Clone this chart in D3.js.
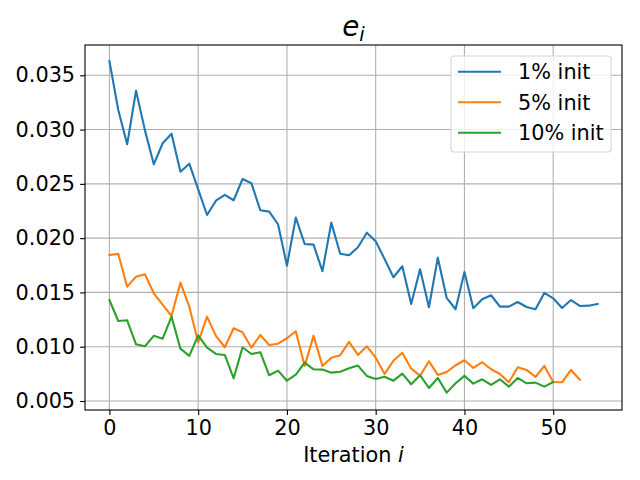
<!DOCTYPE html>
<html>
<head>
<meta charset="utf-8">
<script src="https://cdn.jsdelivr.net/npm/d3@7"></script>
<style>
  body { margin: 0; background: #fff; }
  svg { display: block; font-family: "DejaVu Sans", sans-serif; }
</style>
</head>
<body>
<svg id="chart" width="640" height="480"></svg>
<script>
const seriesNames = ['1% init', '5% init', '10% init'];
const seriesColors = ['#1f77b4', '#ff7f0e', '#2ca02c'];

const init1 = [
  0.03630, 0.03180, 0.02864, 0.03358, 0.02995, 0.02680, 0.02874, 0.02962, 0.02612, 0.02686,
  0.02450, 0.02213, 0.02345, 0.02398, 0.02349, 0.02545, 0.02505, 0.02257, 0.02244, 0.02128,
  0.01746, 0.02189, 0.01946, 0.01940, 0.01695, 0.02143, 0.01857, 0.01842, 0.01916, 0.02050,
  0.01971, 0.01808, 0.01640, 0.01741, 0.01394, 0.01713, 0.01363, 0.01820, 0.01449, 0.01345,
  0.01688, 0.01354, 0.01437, 0.01474, 0.01369, 0.01369, 0.01412, 0.01366, 0.01345, 0.01495,
  0.01446, 0.01357, 0.01430, 0.01375, 0.01378, 0.01394
];
const init5 = [
  0.01845, 0.01855, 0.01553, 0.01645, 0.01667, 0.01492, 0.01387, 0.01283, 0.01590, 0.01369,
  0.01040, 0.01277, 0.01100, 0.00995, 0.01170, 0.01133, 0.00991, 0.01108, 0.01016, 0.01028,
  0.01078, 0.01142, 0.00823, 0.01100, 0.00823, 0.00899, 0.00921, 0.01044, 0.00924, 0.01004,
  0.00899, 0.00749, 0.00871, 0.00945, 0.00798, 0.00733, 0.00866, 0.00740, 0.00767, 0.00829,
  0.00875, 0.00804, 0.00857, 0.00792, 0.00749, 0.00672, 0.00811, 0.00786, 0.00721, 0.00823,
  0.00675, 0.00672, 0.00786, 0.00696
];
const init10 = [
  0.01430, 0.01237, 0.01243, 0.01022, 0.01004, 0.01100, 0.01074, 0.01277, 0.00982, 0.00915,
  0.01105, 0.00991, 0.00933, 0.00924, 0.00709, 0.00995, 0.00933, 0.00949, 0.00737, 0.00780,
  0.00687, 0.00743, 0.00853, 0.00792, 0.00789, 0.00761, 0.00770, 0.00801, 0.00826, 0.00731,
  0.00703, 0.00724, 0.00687, 0.00752, 0.00654, 0.00737, 0.00620, 0.00712, 0.00577, 0.00663,
  0.00731, 0.00660, 0.00700, 0.00648, 0.00700, 0.00632, 0.00712, 0.00663, 0.00669, 0.00632,
  0.00675
];
const xTicks = [0, 10, 20, 30, 40, 50];
const yTicks = [0.005, 0.010, 0.015, 0.020, 0.025, 0.030, 0.035];

const allSeries = [init1, init5, init10];

const svg = d3.select('#chart');
const plotL = 85, plotR = 622, plotT = 45, plotB = 410;

const x = d3.scaleLinear().domain([-2.75, 57.75]).range([plotL, plotR]);
const y = d3.scaleLinear().domain([0.00417, 0.03779]).range([plotB, plotT]);

// grid
const grid = svg.append('g').attr('stroke', '#b0b0b0').attr('stroke-width', 1.1);
xTicks.forEach((t) => {
  grid.append('line').attr('x1', x(t)).attr('x2', x(t)).attr('y1', plotT).attr('y2', plotB);
});
yTicks.forEach((t) => {
  grid.append('line').attr('x1', plotL).attr('x2', plotR).attr('y1', y(t)).attr('y2', y(t));
});

// lines
const line = d3.line()
  .x((d, i) => x(i))
  .y((d) => y(d));

allSeries.forEach((s, k) => {
  svg.append('path')
    .datum(s)
    .attr('fill', 'none')
    .attr('stroke', seriesColors[k])
    .attr('stroke-width', 2.1)
    .attr('stroke-linejoin', 'round')
    .attr('stroke-linecap', 'square')
    .attr('d', line);
});

// axes
const xAxis = svg.append('g')
  .attr('transform', `translate(0,${plotB})`)
  .call(d3.axisBottom(x).tickValues(xTicks).tickSize(4.9).tickPadding(5).tickFormat(d3.format('d')));
const yAxis = svg.append('g')
  .attr('transform', `translate(${plotL},0)`)
  .call(d3.axisLeft(y).tickValues(yTicks).tickSize(4.9).tickPadding(5).tickFormat(d3.format('.3f')));

[xAxis, yAxis].forEach((ax) => {
  ax.select('.domain').remove();
  ax.selectAll('line').attr('stroke', '#000').attr('stroke-width', 1.1);
  ax.selectAll('text')
    .attr('fill', '#000')
    .style('font-family', '"DejaVu Sans", sans-serif')
    .style('font-size', '20.8px');
});

// frame
svg.append('rect')
  .attr('x', plotL).attr('y', plotT)
  .attr('width', plotR - plotL).attr('height', plotB - plotT)
  .attr('fill', 'none').attr('stroke', '#000').attr('stroke-width', 1.1);

// title
const title = svg.append('text')
  .attr('x', (plotL + plotR) / 2)
  .attr('y', 36)
  .attr('text-anchor', 'middle')
  .style('font-size', '27.8px')
  .attr('fill', '#000');
title.append('tspan').style('font-style', 'italic').text('e');
title.append('tspan').style('font-style', 'italic').style('font-size', '19.5px').attr('dy', 5).text('i');

// x label
const xl = svg.append('text')
  .attr('x', (plotL + plotR) / 2)
  .attr('y', 462)
  .attr('text-anchor', 'middle')
  .style('font-size', '20.8px')
  .attr('fill', '#000');
xl.append('tspan').text('Iteration ');
xl.append('tspan').style('font-style', 'italic').text('i');

// legend
const lg = svg.append('g');
lg.append('rect')
  .attr('x', 451).attr('y', 56)
  .attr('width', 160).attr('height', 96)
  .attr('rx', 3)
  .attr('fill', 'rgba(255,255,255,0.8)')
  .attr('stroke', '#d6d6d6').attr('stroke-width', 1.1);
seriesNames.forEach((name, k) => {
  const cy = 71.7 + k * 30.5;
  lg.append('line')
    .attr('x1', 458).attr('x2', 501)
    .attr('y1', cy).attr('y2', cy)
    .attr('stroke', seriesColors[k]).attr('stroke-width', 2.1);
  lg.append('text')
    .attr('x', 518).attr('y', cy)
    .attr('dy', '0.36em')
    .style('font-size', '20.8px')
    .attr('fill', '#000')
    .text(name);
});
</script>
</body>
</html>
